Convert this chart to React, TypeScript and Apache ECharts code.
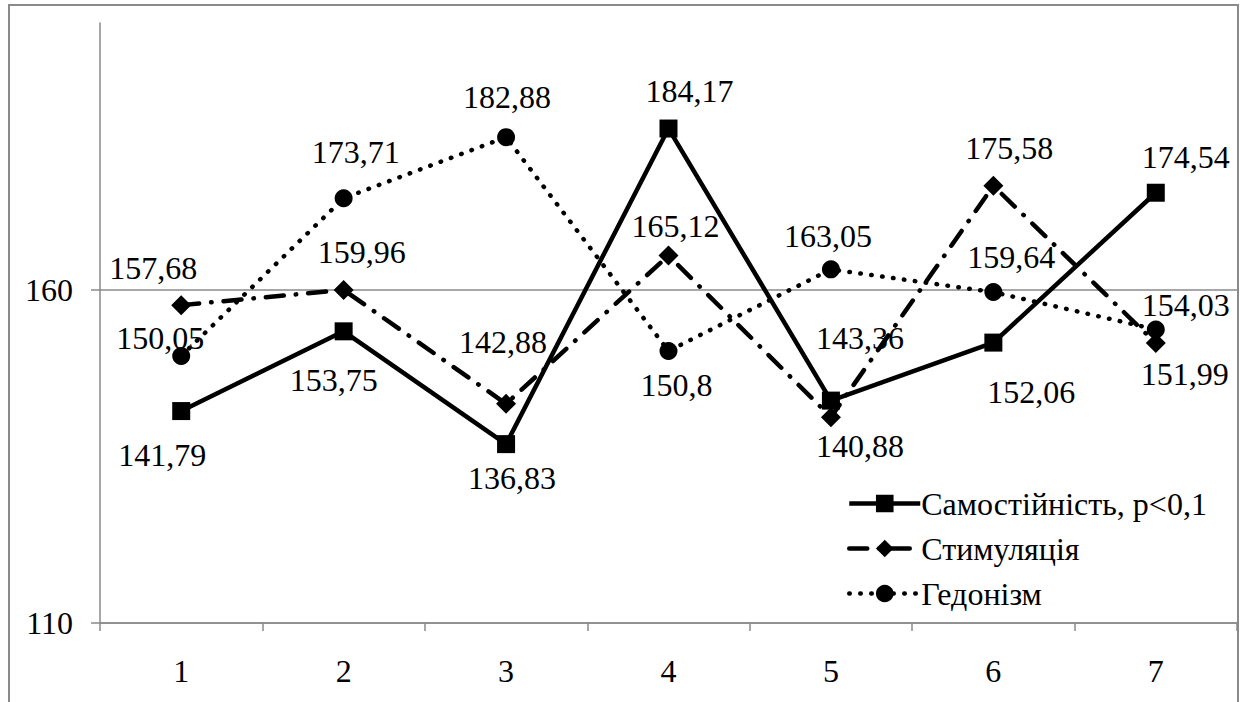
import React, { useEffect, useRef } from "react";
import * as echarts from "echarts";

const categories = ["1", "2", "3", "4", "5", "6", "7"];
const seriesNames = ["Самостійність, p<0,1", "Стимуляція", "Гедонізм"];
const samostiinist = [141.79, 153.75, 136.83, 184.17, 143.36, 152.06, 174.54];
const stymuliatsiia = [157.68, 159.96, 142.88, 165.12, 140.88, 175.58, 151.99];
const hedonizm = [150.05, 173.71, 182.88, 150.8, 163.05, 159.64, 154.03];
const yTicks = [110, 160];

// label offsets (px) relative to each point, as placed in the reference
const offSam = [[-19, 44], [-10, 49], [6, 34], [21, -38], [29, -63], [38, 49], [30, -36]];
const offSt = [[-28, -37], [18, -38], [-3, -62], [7, -30], [29, 29], [16, -38], [29, 31]];
const offHed = [[-21, -18], [12, -46], [1, -40], [8, 34], [-3, -33], [18, -35], [30, -24]];

const FONT = "Liberation Serif";
const FS = 32;
const GRAY = "#8a8a8a";

const fmt = (v: number) => String(v).replace(".", ",");

const build = (vals: number[], offs: number[][]) =>
  vals.map((v, i) => ({
    value: v,
    label: { offset: offs[i] },
  }));

export default function App() {
  const ref = useRef<HTMLDivElement>(null);
  useEffect(() => {
    document.body.style.margin = "0";
    const chart = echarts.init(ref.current!, null, { renderer: "svg" });
    const label = {
      show: true,
      position: "inside",
      formatter: (p: any) => fmt(p.value),
      fontFamily: FONT,
      fontSize: FS,
      color: "#000",
    };
    chart.setOption({
      animation: false,
      backgroundColor: "#fff",
      textStyle: { fontFamily: FONT },
      graphic: [
        {
          type: "rect",
          shape: { x: 9, y: 5, width: 1229, height: 800 },
          style: { fill: "none", stroke: GRAY, lineWidth: 2 },
          silent: true,
          z: -10,
        },
      ],
      grid: { left: 100, right: 9, top: 23, bottom: 79 },
      legend: {
        orient: "vertical",
        left: 842,
        top: 482,
        itemWidth: 71,
        itemHeight: 22,
        itemGap: 12,
        data: seriesNames,
        lineStyle: { width: 4.5 },
        textStyle: { fontFamily: FONT, fontSize: FS, color: "#000", lineHeight: 33, padding: [0, 0, 0, -4] },
      },
      xAxis: {
        type: "category",
        data: categories,
        boundaryGap: true,
        axisLine: { show: true, lineStyle: { color: GRAY, width: 1.5 } },
        axisTick: { show: true, length: 8, lineStyle: { color: GRAY, width: 1.5 } },
        axisLabel: { fontFamily: FONT, fontSize: FS, color: "#000", margin: 32 },
      },
      yAxis: {
        type: "value",
        min: 110,
        max: 200,
        interval: 50,
        axisLine: { show: true, lineStyle: { color: GRAY, width: 1.5 } },
        axisTick: { show: true, length: 9, customValues: yTicks, lineStyle: { color: GRAY, width: 1.5 } },
        axisLabel: {
          fontFamily: FONT,
          fontSize: FS,
          color: "#000",
          margin: 27,
          customValues: yTicks,
        },
        splitLine: { show: true, lineStyle: { color: GRAY, width: 1.5 } },
      },
      series: [
        {
          name: seriesNames[0],
          type: "line",
          data: build(samostiinist, offSam),
          symbol: "rect",
          symbolSize: 18,
          itemStyle: { color: "#000" },
          lineStyle: { color: "#000", width: 4.5 },
          label,
          z: 3,
        },
        {
          name: seriesNames[1],
          type: "line",
          data: build(stymuliatsiia, offSt),
          symbol: "diamond",
          symbolSize: 20,
          itemStyle: { color: "#000" },
          lineStyle: { color: "#000", width: 4.5, type: [18, 12, 0.5, 12], cap: "round" },
          label,
          z: 2,
        },
        {
          name: seriesNames[2],
          type: "line",
          data: build(hedonizm, offHed),
          symbol: "circle",
          symbolSize: 18,
          itemStyle: { color: "#000" },
          lineStyle: { color: "#000", width: 4.5, type: [0.5, 10.5], cap: "round" },
          label,
          z: 1,
        },
      ],
    });
    return () => chart.dispose();
  }, []);
  return <div ref={ref} style={{ width: 1246, height: 702 }} />;
}
